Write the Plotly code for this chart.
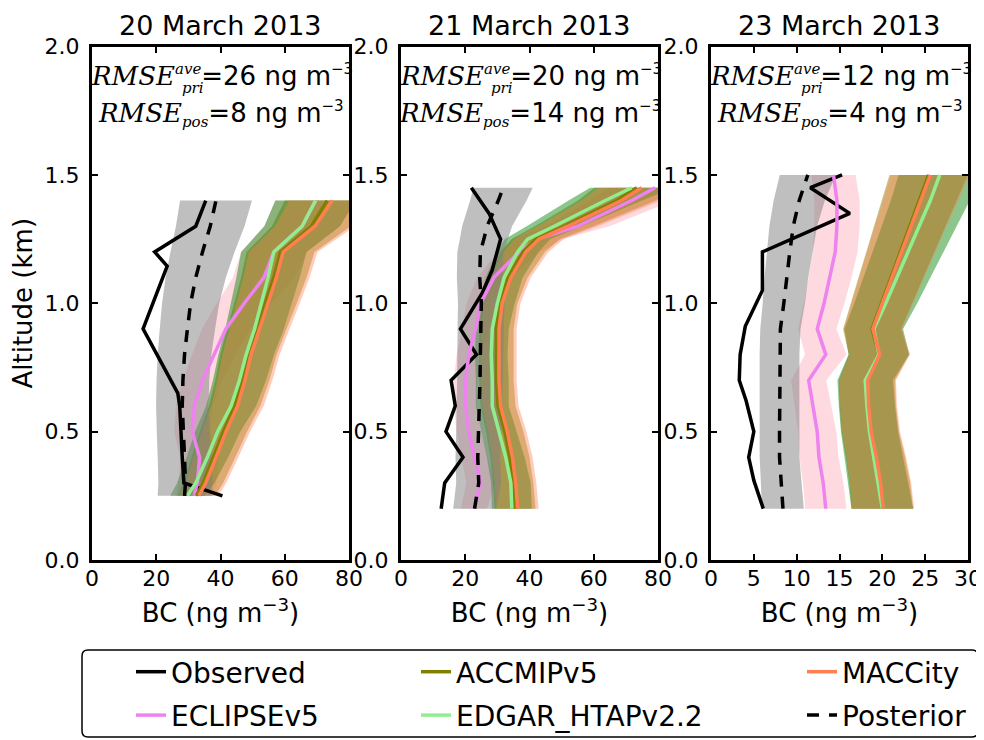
import plotly.graph_objects as go

W, H = 984, 740
OFF = 8  # default page margin of the html body

# ---------------- data ----------------
TITLES = ["20 March 2013", "21 March 2013", "23 March 2013"]
RMSE_PRI = [26, 20, 12]
RMSE_POS = [8, 14, 4]
X_MAX = [80, 80, 30]
X_TICKS = [[0, 20, 40, 60, 80], [0, 20, 40, 60, 80], [0, 5, 10, 15, 20, 25, 30]]
Y_TICKS = [0.0, 0.5, 1.0, 1.5, 2.0]
Y_TICK_LABELS = ["0.0", "0.5", "1.0", "1.5", "2.0"]

# relative uncertainty of the shaded envelopes
PRIOR_REL_UNC = 0.18
POST_REL_UNC = 0.29

# Panel 1 : 20 March 2013
P1_ALT = [0.25, 0.3, 0.4, 0.5, 0.6, 0.7, 0.8, 0.9, 1.0, 1.1, 1.2, 1.3, 1.4]
P1_ECLIPSE = [31.8, 32.8, 33.5, 31.2, 31.8, 34.4, 38.0, 41.7, 47.4, 53.5, 56.6, 65.4, 69.6]
P1_ACCMIP = [32.5, 34.6, 37.8, 40.9, 44.4, 46.8, 48.7, 51.3, 54.0, 56.6, 58.7, 68.3, 73.2]
P1_EDGAR = [29.7, 32.3, 35.9, 39.1, 43.3, 45.9, 48.0, 50.6, 52.7, 54.8, 56.6, 65.4, 69.6]
P1_MACCITY = [33.3, 35.4, 38.6, 41.7, 45.3, 47.6, 49.5, 52.1, 54.8, 57.4, 59.5, 69.4, 74.8]
P1_POSTERIOR = [28.8, 29.1, 28.8, 28.4, 28.1, 28.3, 28.8, 29.7, 30.7, 32.3, 34.4, 36.8, 38.6]
P1_OBS_ALT = [0.25, 0.3, 0.4, 0.6, 0.65, 0.9, 1.145, 1.2, 1.3, 1.4]
P1_OBS = [40.6, 28.6, 28.1, 27.3, 26.7, 15.9, 23.4, 19.5, 32.3, 35.4]

# Panel 2 : 21 March 2013
P2_ALT = [0.2, 0.3, 0.4, 0.5, 0.6, 0.7, 0.8, 0.9, 1.0, 1.1, 1.2, 1.25, 1.3, 1.4, 1.45]
P2_ECLIPSE = [22.7, 24.8, 22.9, 21.1, 20.1, 20.1, 21.1, 23.2, 24.8, 28.9, 36.8, 42.5, 55.0, 71.8, 79.1]
P2_ACCMIP = [35.5, 34.9, 33.9, 32.3, 30.2, 29.7, 29.7, 29.7, 30.7, 33.4, 38.0, 42.0, 50.8, 67.2, 73.4]
P2_EDGAR = [34.5, 34.2, 32.6, 30.5, 28.4, 28.4, 28.1, 28.4, 30.0, 32.1, 36.3, 39.4, 47.7, 63.6, 71.8]
P2_MACCITY = [36.3, 35.7, 34.7, 33.1, 31.0, 30.5, 30.5, 30.5, 31.5, 34.2, 38.9, 43.0, 51.9, 68.6, 74.9]
P2_POSTERIOR = [22.9, 24.2, 23.9, 24.2, 24.4, 24.6, 24.7, 24.8, 25.0, 24.5, 24.7, 25.8, 26.8, 30.3, 31.8]
P2_OBS_ALT = [0.2, 0.3, 0.4, 0.5, 0.6, 0.7, 0.8, 0.9, 1.04, 1.13, 1.25, 1.35, 1.45]
P2_OBS = [12.5, 13.6, 19.3, 14.0, 16.9, 15.6, 23.5, 18.5, 25.3, 28.4, 31.0, 27.4, 21.9]

# Panel 3 : 23 March 2013
P3_ALT = [0.2, 0.3, 0.4, 0.5, 0.6, 0.7, 0.8, 0.9, 1.0, 1.1, 1.2, 1.3, 1.4, 1.5]
P3_ECLIPSE = [13.4, 13.1, 12.6, 12.4, 11.9, 11.4, 13.4, 12.4, 13.2, 13.9, 14.5, 14.7, 14.7, 14.3]
P3_ACCMIP = [20.0, 19.7, 19.2, 18.6, 18.3, 18.2, 19.6, 18.8, 19.9, 21.0, 22.1, 23.2, 24.3, 25.4]
P3_EDGAR = [20.0, 19.5, 19.0, 18.5, 18.2, 18.0, 19.6, 19.0, 20.4, 21.7, 23.0, 24.3, 25.6, 26.7]
P3_MACCITY = [20.1, 19.8, 19.3, 18.7, 18.4, 18.3, 19.7, 18.9, 20.0, 21.1, 22.2, 23.3, 24.5, 25.6]
P3_POSTERIOR = [8.4, 8.2, 8.0, 8.0, 8.0, 8.0, 8.0, 8.1, 8.5, 8.8, 9.2, 9.6, 10.3, 11.3]
P3_OBS_ALT = [0.2, 0.31, 0.4, 0.5, 0.62, 0.7, 0.8, 0.91, 1.05, 1.2, 1.35, 1.45, 1.5]
P3_OBS = [6.1, 5.0, 4.4, 5.0, 4.1, 3.3, 3.4, 4.0, 6.0, 6.0, 16.2, 11.6, 15.3]

PANELS = [
    dict(alt=P1_ALT, ECLIPSEv5=P1_ECLIPSE, ACCMIPv5=P1_ACCMIP, EDGAR=P1_EDGAR,
         MACCity=P1_MACCITY, Posterior=P1_POSTERIOR, obs_alt=P1_OBS_ALT, obs=P1_OBS),
    dict(alt=P2_ALT, ECLIPSEv5=P2_ECLIPSE, ACCMIPv5=P2_ACCMIP, EDGAR=P2_EDGAR,
         MACCity=P2_MACCITY, Posterior=P2_POSTERIOR, obs_alt=P2_OBS_ALT, obs=P2_OBS),
    dict(alt=P3_ALT, ECLIPSEv5=P3_ECLIPSE, ACCMIPv5=P3_ACCMIP, EDGAR=P3_EDGAR,
         MACCity=P3_MACCITY, Posterior=P3_POSTERIOR, obs_alt=P3_OBS_ALT, obs=P3_OBS),
]

# ---------------- styles ----------------
MODELS = [
    # key, legend name, line colour, band colour, legend
    ("ECLIPSEv5", "ECLIPSEv5", "#EE82EE", "rgba(255,192,203,0.6)", "legend"),
    ("ACCMIPv5", "ACCMIPv5", "#808000", "rgba(128,128,0,0.45)", "legend2"),
    ("EDGAR", "EDGAR_HTAPv2.2", "#90EE90", "rgba(0,128,0,0.45)", "legend2"),
    ("MACCity", "MACCity", "#FF7F50", "rgba(255,127,80,0.4)", "legend3"),
]
POST_BAND = "rgba(128,128,128,0.5)"
LW = 3.5
DASH = "12px,10px"
FONT = "DejaVu Sans"
SERIF = "DejaVu Serif"

# axes geometry (pixels in the 984x740 window)
AX_LEFT = [92, 401, 711]
AX_W = 257
AX_TOP, AX_BOT = 46.5, 560


def px(x):
    return (x - OFF) / W


def py(y):
    return 1 - (y - OFF) / H


fig = go.Figure()


def band(alt, vals, unc):
    lo = [v * (1 - unc) for v in vals]
    hi = [v * (1 + unc) for v in vals]
    return lo + hi[::-1], list(alt) + list(alt)[::-1]


for i, p in enumerate(PANELS):
    xa = "x" if i == 0 else f"x{i+1}"
    ya = "y" if i == 0 else f"y{i+1}"
    first = i == 0
    # shaded envelopes
    for key, name, lc, bc, lg in MODELS:
        bx, by = band(p["alt"], p[key], PRIOR_REL_UNC)
        fig.add_trace(go.Scatter(x=bx, y=by, fill="toself", fillcolor=bc, mode="none",
                                 line=dict(width=0), showlegend=False, hoverinfo="skip",
                                 xaxis=xa, yaxis=ya))
    bx, by = band(p["alt"], p["Posterior"], POST_REL_UNC)
    fig.add_trace(go.Scatter(x=bx, y=by, fill="toself", fillcolor=POST_BAND, mode="none",
                             line=dict(width=0), showlegend=False, hoverinfo="skip",
                             xaxis=xa, yaxis=ya))
    # lines
    fig.add_trace(go.Scatter(x=p["obs"], y=p["obs_alt"], mode="lines", name="Observed",
                             legendgroup="Observed",
                             line=dict(color="black", width=LW), showlegend=first,
                             legend="legend", xaxis=xa, yaxis=ya))
    for key, name, lc, bc, lg in MODELS:
        fig.add_trace(go.Scatter(x=p[key], y=p["alt"], mode="lines", name=name,
                                 legendgroup=name,
                                 line=dict(color=lc, width=LW), showlegend=first,
                                 legend=lg, xaxis=xa, yaxis=ya))
    fig.add_trace(go.Scatter(x=p["Posterior"], y=p["alt"], mode="lines", name="Posterior",
                             legendgroup="Posterior",
                             line=dict(color="black", width=LW, dash=DASH), showlegend=first,
                             legend="legend3", xaxis=xa, yaxis=ya))

layout = dict(
    width=W, height=H, margin=dict(l=0, r=0, t=0, b=0, autoexpand=False),
    paper_bgcolor="white", plot_bgcolor="white",
    font=dict(family=FONT, color="black", size=22),
    showlegend=True,
)

for i in range(3):
    sfx = "" if i == 0 else str(i + 1)
    left = AX_LEFT[i]
    layout["xaxis" + sfx] = dict(
        domain=[px(left), px(left + AX_W)], range=[0, X_MAX[i]], tickvals=X_TICKS[i],
        anchor="y" + sfx, showline=True, linewidth=3, linecolor="black", mirror="ticks",
        ticks="inside", ticklen=6, tickwidth=1.5, tickcolor="black", showgrid=False,
        zeroline=False, tickfont=dict(size=22, family=FONT), ticklabelstandoff=-3,
        automargin=False,
        title=dict(text="BC (ng m<sup>\u22123</sup>)", font=dict(size=26, family=FONT), standoff=14),
    )
    layout["yaxis" + sfx] = dict(
        domain=[py(AX_BOT), py(AX_TOP)], range=[0, 2], tickvals=Y_TICKS,
        ticktext=Y_TICK_LABELS, anchor="x" + sfx, showline=True, linewidth=3,
        linecolor="black", mirror="ticks", ticks="inside", ticklen=6, tickwidth=1.5,
        tickcolor="black", showgrid=False, zeroline=False, automargin=False,
        tickfont=dict(size=22, family=FONT), ticklabelstandoff=5,
    )
layout["yaxis"]["title"] = dict(text="Altitude (km)", font=dict(size=26, family=FONT), standoff=8)

leg_common = dict(xanchor="left", yanchor="top", font=dict(family=FONT, size=28, color="black"),
                  bgcolor="rgba(0,0,0,0)", borderwidth=0, tracegroupgap=4,
                  traceorder="grouped", orientation="v")
layout["legend"] = dict(x=px(131), y=py(647), **leg_common)
layout["legend2"] = dict(x=px(416), y=py(647), **leg_common)
layout["legend3"] = dict(x=px(802), y=py(647), **leg_common)

SUP = "<sup><span style='font-size:15px'>\u22123</span></sup>"
annotations = []
for i in range(3):
    left = AX_LEFT[i]
    cx = px(left + AX_W / 2)
    annotations.append(dict(text=TITLES[i], xref="paper", yref="paper", x=cx, y=py(26),
                            xanchor="center", yanchor="middle", showarrow=False,
                            font=dict(size=27, family=FONT)))
    annotations.append(dict(
        text=(f"<span style='font-family:{SERIF}'><i>RMSE</i></span>"
              f"<sup><span style='font-family:{SERIF};font-size:15px'><i>ave</i></span></sup>"
              f"={RMSE_PRI[i]} ng m{SUP}"),
        xref="paper", yref="paper", x=px(left - 3), y=py(76), xanchor="left",
        yanchor="middle", showarrow=False, font=dict(size=26, family=FONT)))
    annotations.append(dict(
        text="<i>pri</i>", xref="paper", yref="paper", x=px(left + 88), y=py(88),
        xanchor="left", yanchor="middle", showarrow=False, font=dict(size=15, family=SERIF)))
    annotations.append(dict(
        text=(f"<span style='font-family:{SERIF}'><i>RMSE</i></span>"
              f"<sub><span style='font-family:{SERIF};font-size:15px'><i>pos</i></span></sub>"
              f"={RMSE_POS[i]} ng m{SUP}"),
        xref="paper", yref="paper", x=cx, y=py(114), xanchor="center",
        yanchor="middle", showarrow=False, font=dict(size=26, family=FONT)))
layout["annotations"] = annotations

# legend frame (rounded box)
x0, x1, y0, y1, r = 82, 978, 650, 737, 6
path = (f"M {px(x0 + r)},{py(y0)} L {px(x1 - r)},{py(y0)} Q {px(x1)},{py(y0)} {px(x1)},{py(y0 + r)} "
        f"L {px(x1)},{py(y1 - r)} Q {px(x1)},{py(y1)} {px(x1 - r)},{py(y1)} "
        f"L {px(x0 + r)},{py(y1)} Q {px(x0)},{py(y1)} {px(x0)},{py(y1 - r)} "
        f"L {px(x0)},{py(y0 + r)} Q {px(x0)},{py(y0)} {px(x0 + r)},{py(y0)} Z")
layout["shapes"] = [dict(type="path", path=path, xref="paper", yref="paper",
                         line=dict(color="black", width=1.5), fillcolor="rgba(0,0,0,0)")]

fig.update_layout(**layout)
fig.write_html("out.html")
